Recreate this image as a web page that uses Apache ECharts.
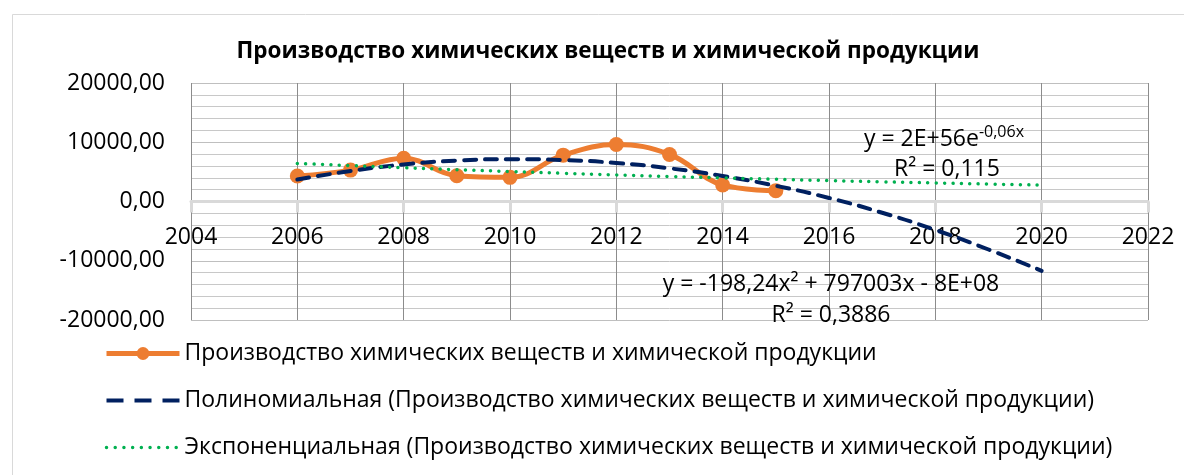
<!DOCTYPE html>
<html>
<head>
<meta charset="utf-8">
<script src="https://cdn.jsdelivr.net/npm/echarts@6/dist/echarts.min.js"></script>
<style>
html,body{margin:0;padding:0;background:#fff;}
#c{width:1184px;height:475px;}
</style>
</head>
<body>
<div id="c"></div>
<script>
const title = 'Производство химических веществ и химической продукции';
const seriesName = 'Производство химических веществ и химической продукции';
const polyName = 'Полиномиальная (Производство химических веществ и химической продукции)';
const expName = 'Экспоненциальная (Производство химических веществ и химической продукции)';

const years = [2006, 2007, 2008, 2009, 2010, 2011, 2012, 2013, 2014, 2015];
const values = [4300, 5300, 7300, 4350, 4080, 7820, 9610, 7940, 2790, 1830];

const trendYears = [2006, 2007, 2008, 2009, 2010, 2011, 2012, 2013, 2014, 2015, 2016, 2017, 2018, 2019, 2020];
const polyValues = [3700, 5150, 6250, 6900, 7150, 7000, 6500, 5600, 4300, 2650, 600, -1900, -4800, -8100, -11700];
const expValues = [6430, 6060, 5700, 5370, 5060, 4760, 4490, 4220, 3980, 3750, 3530, 3320, 3130, 2940, 2770];

const expEq = 'y = 2E+56e';
const expEqSup = '-0,06x';
const expR2 = 'R² = 0,115';
const polyEq = 'y = -198,24x² + 797003x - 8E+08';
const polyR2 = 'R² = 0,3886';

const FONT = 'Open Sans';
const FS = 23;
const chart = echarts.init(document.getElementById('c'), null, {renderer: 'canvas'});

const pairs = (xs, ys) => xs.map((x, i) => [x, ys[i]]);
const GRID_TOP = 83, GRID_BOTTOM = 155, H = 475;
const gridH = H - GRID_TOP - GRID_BOTTOM;

chart.setOption({
  backgroundColor: '#ffffff',
  animation: false,
  textStyle: {fontFamily: FONT},
  title: {
    text: title,
    left: 603, textAlign: 'center',
    top: 35,
    textStyle: {fontFamily: FONT, fontSize: 22.5, fontWeight: 'bold', color: '#000'}
  },
  grid: {left: 191, right: 36, top: GRID_TOP, bottom: GRID_BOTTOM, containLabel: false},
  xAxis: {
    type: 'value',
    min: 2004, max: 2022, interval: 2,
    position: 'bottom',
    offset: -gridH / 2,
    axisLine: {onZero: false, lineStyle: {color: '#D9D9D9', width: 3}},
    axisTick: {show: true, length: 11, lineStyle: {color: '#D9D9D9', width: 3}},
    axisLabel: {margin: 24, fontFamily: FONT, fontSize: FS, color: '#000', formatter: v => String(v)},
    splitLine: {show: true, lineStyle: {color: '#8C8C8C', width: 1}}
  },
  yAxis: {
    type: 'value',
    min: -20000, max: 20000, interval: 10000,
    axisLine: {show: false},
    axisTick: {show: false},
    minorTick: {show: false, splitNumber: 5},
    axisLabel: {margin: 26, fontFamily: FONT, fontSize: FS, color: '#000', formatter: v => v.toFixed(2).replace('.', ',')},
    splitLine: {show: true, lineStyle: {color: '#BFBFBF', width: 1}},
    minorSplitLine: {show: true, lineStyle: {color: '#C8C8C8', width: 1}}
  },
  legend: {
    orient: 'vertical',
    left: 99,
    top: 337,
    itemGap: 24,
    itemWidth: 73,
    itemHeight: 16,
    textStyle: {fontFamily: FONT, fontSize: FS, color: '#000'},
    data: [
      {name: seriesName, lineStyle: {width: 5}},
      {name: polyName, itemStyle: {color: 'rgba(0,0,0,0)', borderWidth: 0}, lineStyle: {width: 4, type: [17, 11], cap: 'butt'}},
      {name: expName, itemStyle: {color: 'rgba(0,0,0,0)', borderWidth: 0}, lineStyle: {width: 3.5, type: [0.01, 8.7], cap: 'round'}}
    ]
  },
  series: [
    {
      name: polyName,
      type: 'line',
      data: pairs(trendYears, polyValues),
      smooth: true,
      symbol: 'none',
      lineStyle: {color: '#002060', width: 4, type: [12, 9], cap: 'round'},
      itemStyle: {color: '#002060'},
      z: 3
    },
    {
      name: expName,
      type: 'line',
      data: pairs(trendYears, expValues),
      smooth: true,
      symbol: 'none',
      lineStyle: {color: '#00B050', width: 3.5, type: [0.01, 8.4], cap: 'round'},
      itemStyle: {color: '#00B050'},
      z: 3
    },
    {
      name: seriesName,
      type: 'line',
      data: pairs(years, values),
      smooth: 0.4,
      symbol: 'circle',
      symbolSize: 15,
      lineStyle: {color: '#ED7D31', width: 5},
      itemStyle: {color: '#ED7D31'},
      z: 2
    }
  ],
  graphic: [
    {type: 'rect', left: 10, top: 12, shape: {width: 1200, height: 500}, style: {fill: 'none', stroke: '#D9D9D9', lineWidth: 1}, silent: true, z: -10},
    {
      type: 'text', x: 864, y: 139, z: 50,
      style: {
        verticalAlign: 'middle',
        rich: {
          a: {fontFamily: FONT, fontSize: FS, fill: '#000'},
          s: {fontFamily: FONT, fontSize: 16, fill: '#000', padding: [0, 0, 14, 0]}
        },
        text: '{a|' + expEq + '}{s|' + expEqSup + '}'
      }
    },
    {type: 'text', x: 947, y: 169, z: 50, style: {text: expR2, fontFamily: FONT, fontSize: FS, fill: '#000', align: 'center', verticalAlign: 'middle'}},
    {type: 'text', x: 831, y: 284, z: 50, style: {text: polyEq, fontFamily: FONT, fontSize: FS, fill: '#000', align: 'center', verticalAlign: 'middle'}},
    {type: 'text', x: 831, y: 315, z: 50, style: {text: polyR2, fontFamily: FONT, fontSize: FS, fill: '#000', align: 'center', verticalAlign: 'middle'}}
  ]
});
</script>
</body>
</html>
